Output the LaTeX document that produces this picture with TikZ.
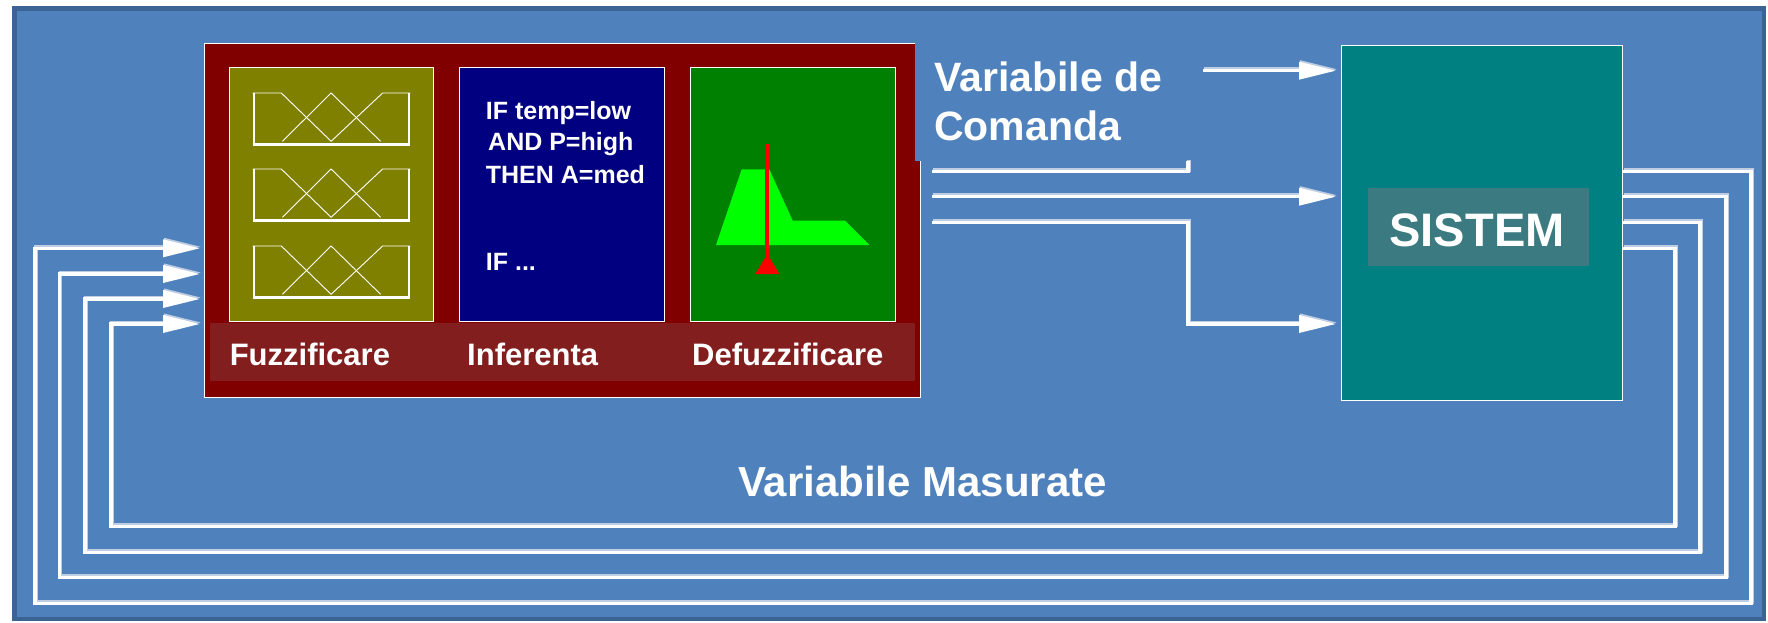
\documentclass[tikz,border=0pt]{standalone}
\usepackage{fontspec}
\setmainfont{Liberation Sans}
\usetikzlibrary{arrows.meta,calc}
\definecolor{bg}{HTML}{4F81BD}
\definecolor{frameblue}{HTML}{3B6494}
\definecolor{ctrlred}{HTML}{800000}
\definecolor{stripred}{RGB}{130,30,30}
\definecolor{olivebox}{HTML}{808000}
\definecolor{navybox}{HTML}{000080}
\definecolor{greenbox}{HTML}{008000}
\definecolor{limefill}{HTML}{00FF00}
\definecolor{tealbox}{HTML}{008080}
\definecolor{syslab}{RGB}{58,122,128}
\definecolor{shade}{RGB}{190,205,225}
\begin{document}
\begin{tikzpicture}[x=1pt,y=-1pt,
  panel/.style={draw=white, line width=0.8pt, inner sep=0pt, outer sep=0pt},
  plain/.style={inner sep=0pt, outer sep=0pt},
  lbl/.style={text=white, font=\bfseries\fontsize{31}{36}\selectfont, inner sep=0pt, anchor=base west},
  rule/.style={text=white, font=\bfseries\fontsize{25}{30}\selectfont, inner sep=0pt, anchor=base west},
  big/.style={text=white, font=\bfseries\fontsize{41}{49}\selectfont, inner sep=0pt, anchor=base west},
  wline/.style={draw=white, line width=3.5pt,
    preaction={draw=shade, line width=3.5pt, transform canvas={shift={(1.2pt,1.5pt)}}}},
  warr/.style={wline, -{Triangle[length=37pt,width=17pt]}},
  mfthick/.style={draw=white, line width=2.5pt},
  mfthin/.style={draw=white, line width=0.9pt},
  mf/.pic={
    \draw[mfthin] (0,0) -- (28.7,0) -- (78.5,48.3);
    \draw[mfthin] (29.8,48.3) -- (78.5,0) -- (128,48.3);
    \draw[mfthin] (78.5,48.3) -- (130,0) -- (157.7,0);
    \draw[mfthick] (1.5,0) -- (1.5,51.7) -- (156.2,51.7) -- (156.2,0);
  }]
\fill[white] (0,0) rectangle (1768,622);
\useasboundingbox (0,0) rectangle (1768,622);
\draw[fill=bg, draw=frameblue, line width=4.5pt] (14.5,8.5) rectangle (1764,619);

% controller
\node[panel, fill=ctrlred, minimum width=716pt, minimum height=354pt] (ctrl) at (562,220) {};
\node[plain, fill=bg, minimum width=280pt, minimum height=125pt] (cmdbg) at (1055,98.5) {};
\node[plain, fill=stripred, minimum width=705.3pt, minimum height=57.7pt] (strip) at (562.35,351.85) {};
\node[panel, fill=olivebox, minimum width=204.6pt, minimum height=254pt] (fuzz) at (331.3,194.7) {};
\node[panel, fill=navybox, minimum width=205pt, minimum height=253.3pt] (inf) at (561.5,194.35) {};
\node[panel, fill=greenbox, minimum width=205pt, minimum height=253.3pt] (defuzz) at (792.5,194.35) {};

\pic at (252.6,93) {mf};
\pic at (252.6,169) {mf};
\pic at (252.6,246) {mf};

\fill[limefill] (716,245) -- (741.7,169.3) -- (769.3,169.3) -- (792.7,220.7) -- (845,220.7) -- (869.3,245) -- cycle;
\draw[red, line width=4pt] (767.3,144) -- (767.3,258);
\fill[red] (767.3,254) -- (779.3,274) -- (755.3,274) -- cycle;

\node[rule] (r1) at (485.7,119) {IF temp=low};
\node[rule] (r2) at (488,150.7) {AND P=high};
\node[rule] (r3) at (485.7,183) {THEN A=med};
\node[rule] (r4) at (485.7,270) {IF ...};

\node[lbl] (lf) at (229.6,365) {Fuzzificare};
\node[lbl] (li) at (467,365) {Inferenta};
\node[lbl] (ld) at (692,365) {Defuzzificare};

% system
\node[panel, fill=tealbox, minimum width=281.6pt, minimum height=354.3pt] (sys) at (1481.8,222.85) {};
\node[plain, fill=syslab, minimum width=221pt, minimum height=77.7pt] (syslabel) at (1478.5,226.85) {};
\node[text=white, font=\bfseries\fontsize{47}{56}\selectfont, inner sep=0pt, anchor=base] (systxt) at (1477,246) {SISTEM};

\node[big] (cmd1) at (934,91) {Variabile de};
\node[big] (cmd2) at (934,140) {Comanda};
\node[big, font=\bfseries\fontsize{42}{50}\selectfont] (meas) at (738,496.7) {Variabile Masurate};

% command connectors
\coordinate (cmdout) at (1203,70.7);
\draw[warr, shorten >=5pt] (cmdout) -- (sys.west |- cmdout);
\draw[wline] ($(ctrl.east |- 0,171.7)+(11.6,0)$) -| ($(cmdbg.south west)+(273,0)$);
\draw[warr, shorten >=5pt] ($(ctrl.east |- 0,196.7)+(11.6,0)$) -- (sys.west |- 0,196.7);
\draw[warr, shorten >=5pt] ($(ctrl.east |- 0,222.3)+(11.6,0)$) -- (1188,222.3) -- (1188,324) -- (sys.west |- 0,324);

% feedback connectors
\draw[warr, shorten >=4pt] (sys.east |- 0,171.7) -- (1751,171.7) -- (1751,603.3) -- (35,603.3) -- (35,248.3) -- (ctrl.west |- 0,248.3);
\draw[warr, shorten >=4pt] (sys.east |- 0,196.7) -- (1726,196.7) -- (1726,577.7) -- (59.5,577.7) -- (59.5,274) -- (ctrl.west |- 0,274);
\draw[warr, shorten >=4pt] (sys.east |- 0,222.3) -- (1700,222.3) -- (1700,552.3) -- (85,552.3) -- (85,299) -- (ctrl.west |- 0,299);
\draw[warr, shorten >=4pt] (sys.east |- 0,248.3) -- (1675,248.3) -- (1675,526.7) -- (111,526.7) -- (111,324) -- (ctrl.west |- 0,324);
\end{tikzpicture}
\end{document}
